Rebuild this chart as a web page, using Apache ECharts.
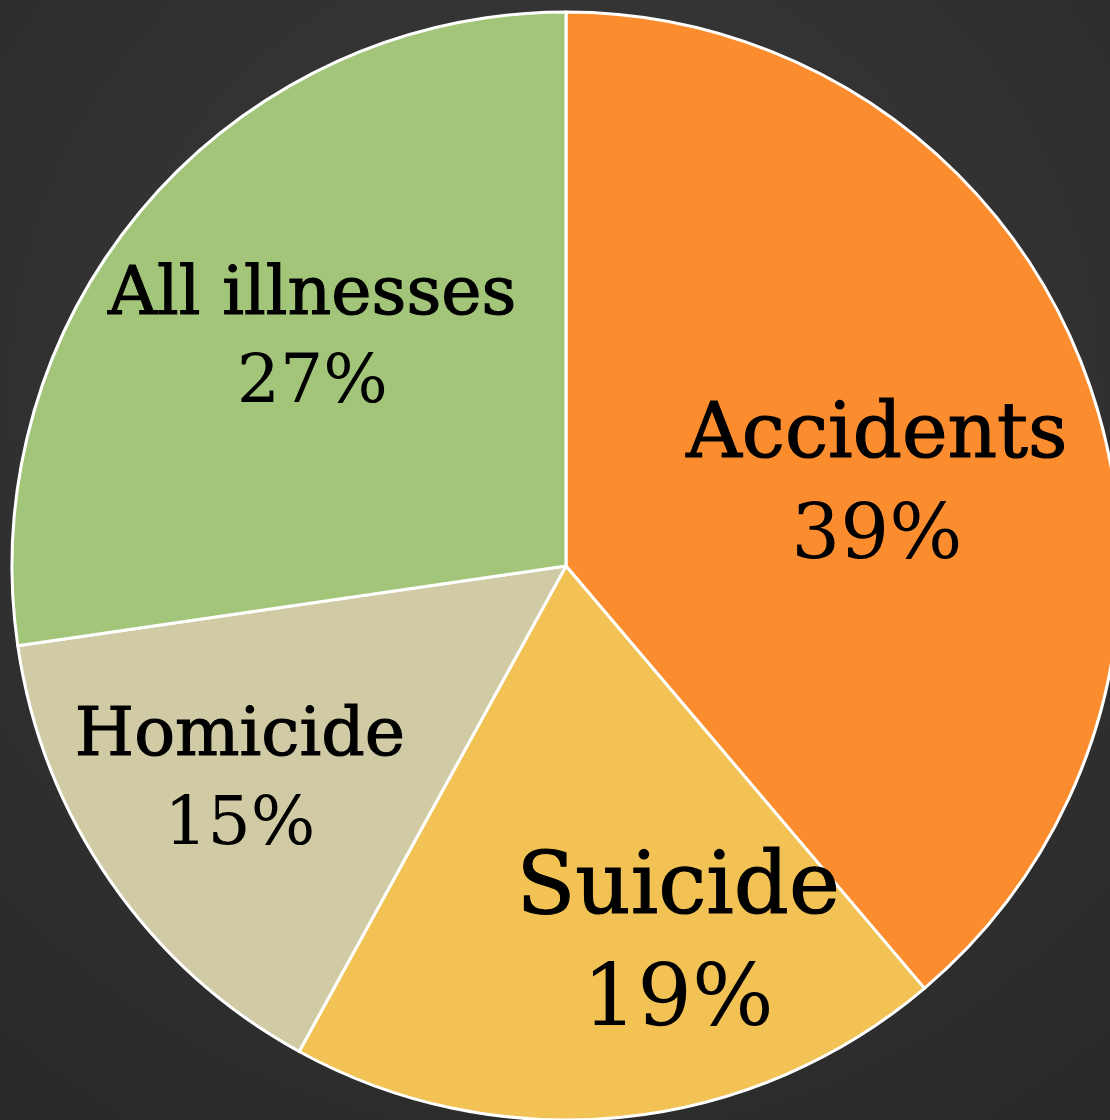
<!DOCTYPE html>
<html>
<head>
<meta charset="utf-8">
<script src="https://cdn.jsdelivr.net/npm/echarts@6/dist/echarts.min.js"></script>
<style>
html,body{margin:0;padding:0;background:#333;}
#main{width:1110px;height:1120px;}
</style>
</head>
<body>
<div id="main"></div>
<script>
const categories = ['Accidents', 'Suicide', 'Homicide', 'All illnesses'];
const values = [38.8, 19.2, 14.7, 27.3];
const colors = ['#FC8D2E', '#F2C354', '#D0CBA5', '#A3C57A'];
const labelSizes = [77, 86, 68, 68];
const labelLineHeights = [100, 112, 89, 88];
const labelOffsets = [[48, 18], [84, 102], [-96, 56], [-42, -42]];

const chart = echarts.init(document.getElementById('main'));
chart.setOption({
  animation: false,
  backgroundColor: {
    type: 'radial', x: 0.5, y: 0.35, r: 0.8,
    colorStops: [{offset: 0, color: '#3c3c3c'}, {offset: 1, color: '#292929'}]
  },
  series: [{
    type: 'pie',
    center: [566, 566],
    radius: [0, 554],
    startAngle: 90,
    clockwise: true,
    percentPrecision: 0,
    avoidLabelOverlap: false,
    itemStyle: {borderColor: '#ffffff', borderWidth: 3},
    label: {
      show: true,
      position: 'inside',
      formatter: '{n|{b}}\n{p|{d}%}',
      color: '#000000',
      fontFamily: 'DejaVu Serif',
      fontWeight: 'normal',
      align: 'center'
    },
    labelLine: {show: false},
    emphasis: {disabled: true},
    data: categories.map((c, i) => ({
      name: c,
      value: values[i],
      itemStyle: {color: colors[i]},
      label: {
        offset: labelOffsets[i],
        rich: {
          n: {fontFamily: 'DejaVu Serif', fontSize: labelSizes[i], lineHeight: labelLineHeights[i], color: '#000', textBorderColor: '#000', textBorderWidth: 1.2},
          p: {fontFamily: 'DejaVu Serif', fontSize: labelSizes[i], lineHeight: labelLineHeights[i], color: '#000'}
        }
      }
    }))
  }]
});
</script>
</body>
</html>
